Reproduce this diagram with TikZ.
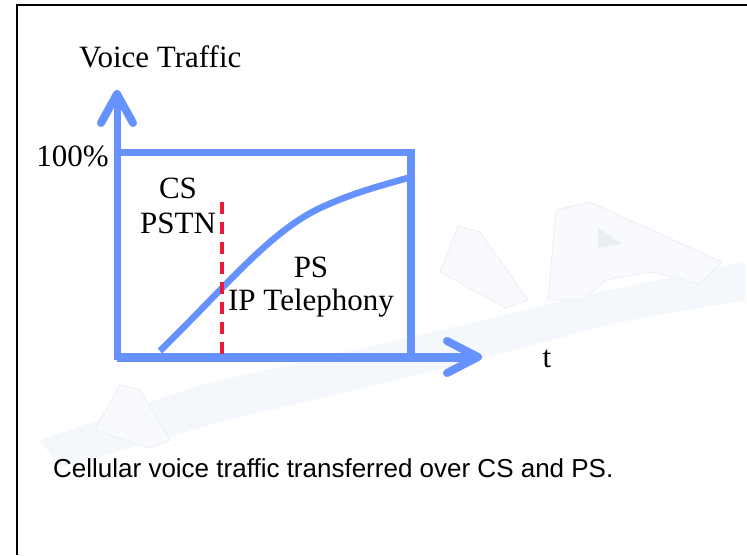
\documentclass[tikz,border=0pt]{standalone}
\usepackage{fontspec}
\setmainfont{Liberation Serif}
\newfontfamily\capfont{Liberation Sans}
\definecolor{axisblue}{RGB}{102,146,255}
\definecolor{splitred}{RGB}{235,25,60}
\definecolor{wmshade}{RGB}{244,247,252}
\definecolor{wmface}{RGB}{249,250,253}
\definecolor{wmedge}{RGB}{234,238,245}
\tikzset{
  axisline/.style={draw=axisblue, line width=7pt},
  tipline/.style={draw=axisblue, line width=8pt, line cap=round, line join=round},
  shareline/.style={draw=axisblue, line width=6.5pt},
  splitline/.style={draw=splitred, line width=3.5pt, dash pattern=on 12pt off 8pt},
  lbl/.style={font=\fontsize{31}{37}\selectfont, inner sep=0pt},
  caption/.style={font=\capfont\fontsize{26}{31}\selectfont, inner sep=0pt},
  wm/.style={fill=wmshade, draw=none},
  wmletter/.style={fill=wmface, draw=wmedge, line width=0.8pt}
}
\begin{document}
\begin{tikzpicture}[x=1pt, y=-1pt]
\useasboundingbox (0,0) rectangle (747,555);
\fill[white] (0,0) rectangle (747,555);

% faint background lettering
\path[wm] (40,440) -- (200,385) -- (420,335) -- (600,292) -- (745,262) -- (745,300)
  -- (620,322) -- (430,372) -- (220,422) -- (60,468) -- cycle;
\path[wmletter] (95,430) -- (120,385) -- (140,390) -- (170,440) -- (150,448) -- cycle;
\path[wmletter] (440,272) -- (458,226) -- (480,232) -- (528,300) -- (506,308) -- cycle;
\path[wmletter] (548,300) -- (556,210) -- (590,202) -- (722,262) -- (700,284)
  -- (652,272) -- (606,280) -- (582,300) -- cycle;
\path[fill=wmedge] (598,228) -- (622,244) -- (598,248) -- cycle;

% axes and the 100% frame
\coordinate (o) at (117,357);
\coordinate (ytip) at (117,94);
\coordinate (xtip) at (478,357);
\draw[axisline] (117,360) -- (117,96);
\draw[axisline, line width=9pt] (117,357) -- (476,357);
\draw[axisline] (117,152) -- (415,152);
\draw[axisline, line width=8pt] (411,149) -- (411,357);
\draw[tipline] (101,123) -- (ytip) -- (133,123);
\draw[tipline] (447,341) -- (xtip) -- (447,373);

% PS share curve
\draw[shareline] (160,351) .. controls (230,282) and (270,232) .. (320,208)
  .. controls (355,192) and (380,186) .. (411,177);

% split marker
\draw[splitline] (222,202) -- (222,357);

% labels
\node[lbl, anchor=base west] (ylabel) at (79,67) {Voice Traffic};
\node[lbl, anchor=base east] (full) at (109,166) {100\%};
\node[lbl, anchor=base] (cs) at (178,198) {CS};
\node[lbl, anchor=base] (pstn) at (178,233) {PSTN};
\node[lbl, anchor=base] (ps) at (311,277) {PS};
\node[lbl, anchor=base] (ipt) at (311,310) {IP Telephony};
\node[lbl, anchor=base] (tlabel) at (547,367) {t};
\node[caption, anchor=base west] (cap) at (53,477) {Cellular voice traffic transferred over CS and PS.};

% page frame
\draw[black, line width=2pt] (17,555) -- (17,4.5) -- (747,4.5);
\end{tikzpicture}
\end{document}
